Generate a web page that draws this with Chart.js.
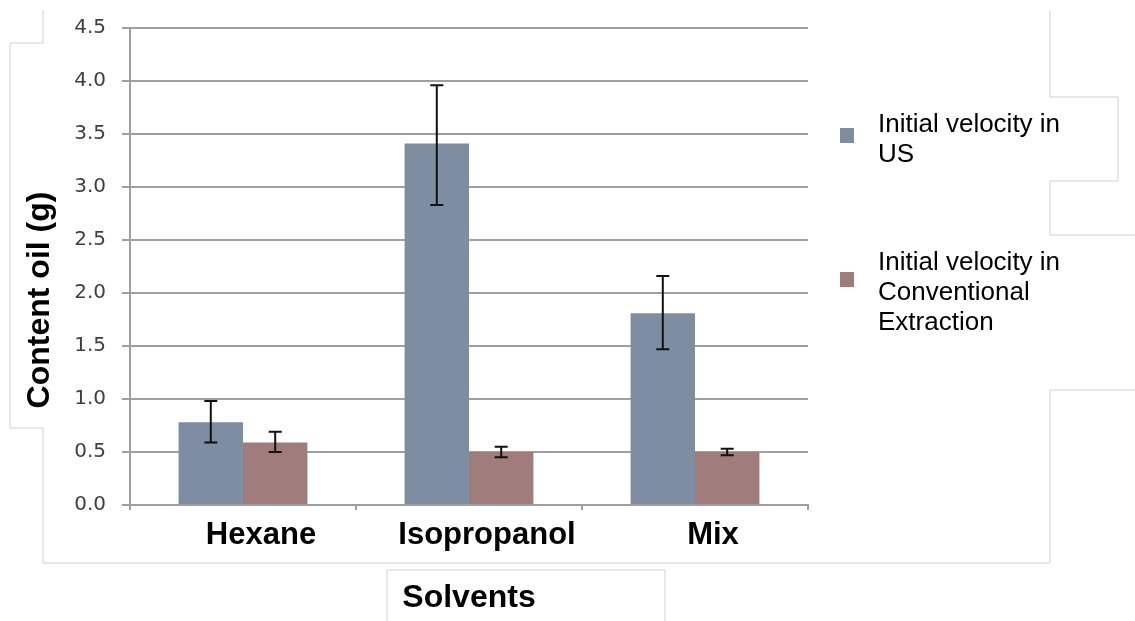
<!DOCTYPE html>
<html>
<head>
<meta charset="utf-8">
<script src="https://cdn.jsdelivr.net/npm/chart.js@4"></script>
<style>
  html, body { margin: 0; padding: 0; background: #fff; }
  #wrap { position: relative; width: 1135px; height: 621px; }
  #grafica { position: absolute; left: 0; top: 0; }
  #marcos { position: absolute; left: 0; top: 0; pointer-events: none; }
  #tituloY { position: absolute; left: 38px; top: 300px; transform: translate(-50%, -50%) rotate(-90deg);
             font-family: "Liberation Sans", Arial, sans-serif; font-size: 32px; font-weight: bold; white-space: nowrap; color: #000; }
  .leyenda { position: absolute; left: 840px; font-family: "Liberation Sans", Arial, sans-serif; font-size: 26px; line-height: 30px; color: #000; }
  .leyenda .cuadro { position: absolute; left: 0; width: 14px; height: 15px; }
  .leyenda .texto { position: absolute; left: 38px; white-space: nowrap; }
</style>
</head>
<body>
<div id="wrap">
  <canvas id="grafica" width="1135" height="621"></canvas>
  <svg id="marcos" width="1135" height="621">
    <polyline points="43,10 43,43 10,43 10,428 43,428 43,563 1050,563 1050,390 1135,390" fill="none" stroke="#d0d0d0" stroke-width="1"/>
    <polyline points="1050,10 1050,97 1118,97 1118,181 1050,181 1050,235 1135,235" fill="none" stroke="#d0d0d0" stroke-width="1"/>
    <polyline points="387,621 387,570 665,570 665,621" fill="none" stroke="#d0d0d0" stroke-width="1"/>
  </svg>
  <div id="tituloY">Content oil (g)</div>
  <div id="leyenda"></div>
</div>
<script>
// Datos
const categorias = ['Hexane', 'Isopropanol', 'Mix'];
const velocidadUS = [0.78, 3.41, 1.81];
const errorUSBajo = [0.59, 2.83, 1.47];
const errorUSAlto = [0.98, 3.96, 2.16];
const velocidadConv = [0.59, 0.50, 0.50];
const errorConvBajo = [0.50, 0.45, 0.47];
const errorConvAlto = [0.69, 0.55, 0.53];
const etiquetasSeries = [
  ['Initial velocity in', 'US'],
  ['Initial velocity in', 'Conventional', 'Extraction']
];

const colorUS = '#7e8da2';
const colorConv = '#a07c7b';

// Barras de error dibujadas con las escalas del gráfico
const barrasError = {
  id: 'barrasError',
  afterDatasetsDraw(chart) {
    const ctx = chart.ctx;
    const y = chart.scales.y;
    chart.data.datasets.forEach((ds, i) => {
      const meta = chart.getDatasetMeta(i);
      meta.data.forEach((barra, j) => {
        const yAlto = y.getPixelForValue(ds.errorAlto[j]);
        const yBajo = y.getPixelForValue(ds.errorBajo[j]);
        ctx.save();
        ctx.strokeStyle = '#111';
        ctx.lineWidth = 2;
        ctx.beginPath();
        ctx.moveTo(barra.x, yAlto); ctx.lineTo(barra.x, yBajo);
        ctx.moveTo(barra.x - 6.5, yAlto); ctx.lineTo(barra.x + 6.5, yAlto);
        ctx.moveTo(barra.x - 6.5, yBajo); ctx.lineTo(barra.x + 6.5, yBajo);
        ctx.stroke();
        ctx.restore();
      });
    });
  }
};

const $grafica = document.querySelector('#grafica');
const grafico = new Chart($grafica, {
  type: 'bar',
  data: {
    labels: categorias,
    datasets: [
      { label: etiquetasSeries[0].join(' '), data: velocidadUS, errorBajo: errorUSBajo, errorAlto: errorUSAlto,
        backgroundColor: colorUS, categoryPercentage: 0.57, barPercentage: 1.0 },
      { label: etiquetasSeries[1].join(' '), data: velocidadConv, errorBajo: errorConvBajo, errorAlto: errorConvAlto,
        backgroundColor: colorConv, categoryPercentage: 0.57, barPercentage: 1.0 }
    ]
  },
  options: {
    responsive: false,
    animation: false,
    layout: { padding: { top: 24, right: 327, left: 0, bottom: 0 } },
    plugins: { legend: { display: false }, tooltip: { enabled: false } },
    scales: {
      x: {
        afterFit(escala) { escala.height = 116; },
        grid: { drawOnChartArea: false, drawTicks: true, tickLength: 5, color: '#a0a0a0', lineWidth: 2, offset: true },
        border: { color: '#a0a0a0', width: 2 },
        ticks: { color: '#000', padding: 7, labelOffset: 18,
                 font: { family: '"Liberation Sans", Arial, sans-serif', size: 31, weight: 'bold' } },
        title: { display: true, text: 'Solvents', color: '#000', padding: { top: 16, bottom: 4 },
                 font: { family: '"Liberation Sans", Arial, sans-serif', size: 32, weight: 'bold' } }
      },
      y: {
        min: 0, max: 4.5,
        afterFit(escala) { escala.width = 130; },
        grid: { color: '#a0a0a0', lineWidth: 2, tickLength: 8 },
        border: { color: '#a0a0a0', width: 2 },
        ticks: { stepSize: 0.5, padding: 16, color: '#404040',
                 callback: v => v.toFixed(1),
                 font: { family: '"DejaVu Sans", Verdana, sans-serif', size: 20 } },
        title: { display: false }
      }
    }
  },
  plugins: [barrasError]
});

// Leyenda en HTML (texto en varias líneas)
const $leyenda = document.querySelector('#leyenda');
const posiciones = [108, 246];
const desplCuadro = [20, 26];
grafico.data.datasets.forEach((ds, i) => {
  const item = document.createElement('div');
  item.className = 'leyenda';
  item.style.top = posiciones[i] + 'px';
  item.innerHTML = '<div class="cuadro" style="top:' + desplCuadro[i] + 'px;background:' + ds.backgroundColor + '"></div>' +
    '<div class="texto">' + etiquetasSeries[i].join('<br>') + '</div>';
  $leyenda.appendChild(item);
});
</script>
</body>
</html>
